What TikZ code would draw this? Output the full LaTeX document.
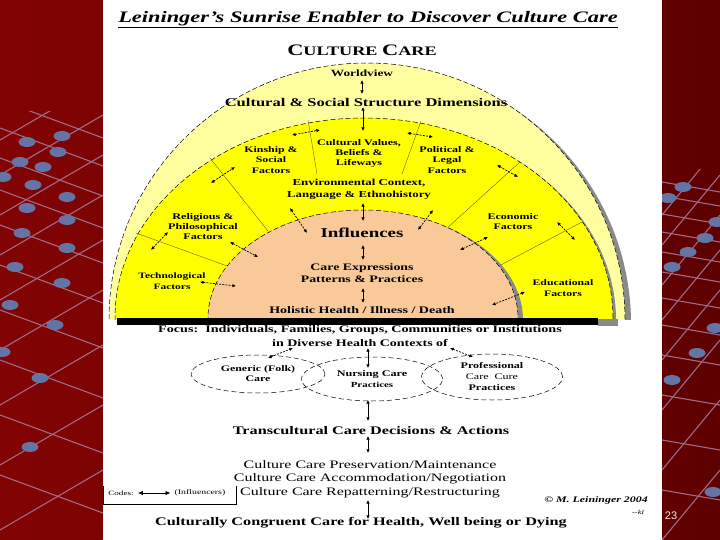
\documentclass[tikz,border=0pt]{standalone}
\usepackage{fontspec}
\setmainfont{Liberation Serif}[FakeStretch=1.4]
\newfontfamily\pgsans{Liberation Sans}
\usetikzlibrary{arrows.meta,shapes.geometric}
\definecolor{bgA}{HTML}{820303}
\definecolor{bgB}{HTML}{5E0000}
\definecolor{pale}{HTML}{FFFFA0}
\definecolor{sun}{HTML}{FFFF00}
\definecolor{peach}{HTML}{F9C99A}
\definecolor{shadowg}{HTML}{8A8A8A}
\definecolor{netpink}{HTML}{A06A88}
\definecolor{netblue}{HTML}{6474A4}
\newcommand\fsz[2]{\fontsize{#1}{#2}\selectfont}
\begin{document}
\begin{tikzpicture}[x=1pt,y=-1pt,
  t/.style={inner sep=0pt, align=center},
  arr/.style={{Latex[length=3.6pt,width=3.4pt]}-{Latex[length=3.6pt,width=3.4pt]}, line width=0.7pt},
  darr/.style={arr, dash pattern=on 2pt off 1.2pt},
  bound/.style={draw=black, line width=0.5pt, dash pattern=on 5pt off 2.5pt},
  divider/.style={draw=black!75, line width=0.3pt},
  ell/.style={ellipse, draw, line width=0.5pt, dash pattern=on 5pt off 3pt, inner sep=0pt, align=center},
  netline/.style={draw=netpink, line width=1.1pt},
  netdot/.style={fill=netblue}]
\useasboundingbox (0,0) rectangle (720,540);
% background
\shade[left color=bgA, right color=bgB] (0,0) rectangle (720,540);
% left network
\begin{scope}
\clip (0,112) rectangle (103,540);
\foreach \c in {140,175,215,255,300,350,405,465,530,600} \draw[netline] (0,\c) -- (103,\c-60);
\foreach \c in {100,128,158,190,225,265,310,360,415,475} \draw[netline] (0,\c) -- (103,\c+38);
\foreach \x/\y in {62/136,27/142,58/152,20/162,43/167,3/177,33/185,67/197,27/208,67/220,22/233,67/248,15/267,62/283,10/305,55/325,2/352,40/378,30/447}
  \fill[netdot] (\x,\y) ellipse [x radius=8.5, y radius=5];
\end{scope}
% right network
\begin{scope}
\clip (662,170) rectangle (720,540);
\foreach \c in {182,196,214,232,252,272,298,325,355,395,440,490} \draw[netline] (662,\c) -- (720,\c+10);
\foreach \c in {215,245,285,320,360,410,470,540} \draw[netline] (662,\c) -- (720,\c-70);
\foreach \x/\y in {683/187,668/198,717/222,705/238,688/252,672/267,715/328,697/353,672/380,713/492}
  \fill[netdot] (\x,\y) ellipse [x radius=8.5, y radius=5];
\end{scope}
% white panel
\fill[white] (103,0) rectangle (662,540);
% sunrise
\begin{scope}
\clip (0,0) rectangle (720,319);
\fill[shadowg] (373,324) ellipse [x radius=258, y radius=257];
\fill[pale] (367,320) ellipse [x radius=258, y radius=257];
\path[bound] (367,320) ellipse [x radius=258, y radius=257];
\fill[shadowg] (367,320) ellipse [x radius=249, y radius=200];
\fill[sun] (364,318) ellipse [x radius=249, y radius=200];
\path[bound] (364,318) ellipse [x radius=249, y radius=200];
\draw[divider] (308,120) -- (317,174);
\draw[divider] (421,121) -- (402,174);
\draw[divider] (210,158) -- (268,231);
\draw[divider] (136,233) -- (230,267);
\draw[divider] (520,162) -- (446,229);
\draw[divider] (582,222) -- (497,267);
\fill[shadowg] (368,320) ellipse [x radius=155, y radius=108];
\fill[peach] (363,318) ellipse [x radius=155, y radius=108];
\path[bound] (363,318) ellipse [x radius=155, y radius=108];
\end{scope}
\fill[shadowg] (598,319) rectangle (618,326);
\fill[black] (117,318) rectangle (598,325);
% texts
\node[t, font=\fsz{16}{18}\bfseries\itshape] (title) at (368,20) {\underline{Leininger’s Sunrise Enabler to Discover Culture Care}};
\node[t, font=\bfseries] (cc) at (362,50) {\fsz{16}{18}C\fsz{13}{14}ULTURE \fsz{16}{18}C\fsz{13}{14}ARE};
\node[t,font=\fsz{9.5}{11}\bfseries] (wv) at (362,73) {Worldview};
\node[t,font=\fsz{11.8}{13}\bfseries] (cssd) at (366,102) {Cultural \& Social Structure Dimensions};
\node[t,font=\fsz{8.5}{10.5}\bfseries] (kin) at (271,160) {Kinship \&\\Social\\Factors};
\node[t,font=\fsz{8.6}{10}\bfseries] (cv) at (359,153) {Cultural Values,\\Beliefs \&\\Lifeways};
\node[t,font=\fsz{8.6}{10.5}\bfseries] (pol) at (447,160) {Political \&\\Legal\\Factors};
\node[t,font=\fsz{9.2}{12}\bfseries] (env) at (359,189) {Environmental Context,\\Language \& Ethnohistory};
\node[t,font=\fsz{8.7}{10}\bfseries] (rel) at (203,227) {Religious \&\\Philosophical\\Factors};
\node[t,font=\fsz{8.6}{10}\bfseries] (eco) at (513,222) {Economic\\Factors};
\node[t,font=\fsz{13.5}{15}\bfseries] (infl) at (362,233) {Influences};
\node[t,font=\fsz{8.2}{11}\bfseries] (tech) at (172,281) {Technological\\Factors};
\node[t,font=\fsz{9.9}{12}\bfseries] (care) at (362,273) {Care Expressions\\Patterns \& Practices};
\node[t,font=\fsz{8.4}{10.5}\bfseries] (edu) at (563,288) {Educational\\Factors};
\node[t,font=\fsz{10}{12}\bfseries] (hol) at (362,310) {Holistic Health / Illness / Death};
\node[t,font=\fsz{10.1}{12}\bfseries] (focus) at (360,330) {Focus:\ \ Individuals, Families, Groups, Communities or Institutions};
\node[t,font=\fsz{10}{12}\bfseries] (diverse) at (360,343) {in Diverse Health Contexts of};
\node[ell, minimum width=134pt, minimum height=38pt, font=\fsz{8.5}{10}\bfseries] (gen) at (258,374) {Generic (Folk)\\Care};
\node[ell, minimum width=141pt, minimum height=44pt, font=\fsz{8.7}{11}\bfseries] (nurs) at (372,379) {Nursing Care\\{\fsz{7.8}{11}Practices}};
\node[ell, minimum width=141pt, minimum height=46pt, font=\fsz{8.6}{11}\bfseries] (prof) at (492,377) {Professional\\{\mdseries Care\ \ Cure}\\Practices};
\node[t,font=\fsz{11.6}{13}\bfseries] (trans) at (371,431) {Transcultural Care Decisions \& Actions};
\node[t,font=\fsz{11.4}{13.5}] (ccp) at (370,479) {Culture Care Preservation/Maintenance\\Culture Care Accommodation/Negotiation\\Culture Care Repatterning/Restructuring};
\node[t,font=\fsz{11.6}{13}\bfseries] (cong) at (361,523) {Culturally Congruent Care for Health, Well being or Dying};
\node[t,font=\fsz{8.5}{10}\bfseries\itshape] (copy) at (596,500) {© M. Leininger 2004};
\node[t,font=\fsz{6}{7}\itshape] (kl) at (638,512) {{-}{-}kl};
\node[t,font=\fsz{6.5}{8}] (codes) at (121,493) {Codes:};
\node[t,font=\fsz{7}{8}] (infl2) at (200,493) {(Influencers)};
\node[t,font=\pgsans\fsz{11}{12}, text=white!85!gray] (pg) at (671,516) {23};
% codes box and arrow
\coordinate (bx1) at (103,486); \coordinate (bx2) at (103,504);
\coordinate (bx3) at (236,504); \coordinate (bx4) at (236,486);
\draw[line width=0.5pt] (bx1) -- (bx2) -- (bx3) -- (bx4);
\draw[line width=0.8pt, {Latex[length=5pt,width=4.5pt]}-{Latex[length=5pt,width=4.5pt]}] ([xshift=4pt]codes.east) -- ([xshift=-4pt]infl2.west);
% arrow end points
\coordinate (w1) at (362,80); \coordinate (w2) at (362,94);
\coordinate (c1) at (363,107); \coordinate (c2) at (363,131);
\coordinate (k1) at (292,135); \coordinate (k2) at (320,130);
\coordinate (v1) at (407,133); \coordinate (v2) at (433,137);
\coordinate (p1) at (497,165); \coordinate (p2) at (518,177);
\coordinate (e1) at (557,222); \coordinate (e2) at (575,240);
\coordinate (r1) at (211,183); \coordinate (r2) at (235,167);
\coordinate (t1) at (151,250); \coordinate (t2) at (168,232);
\coordinate (tp1) at (200,282); \coordinate (tp2) at (236,286);
\coordinate (rp1) at (230,242); \coordinate (rp2) at (258,257);
\coordinate (el1) at (290,208); \coordinate (el2) at (307,233);
\coordinate (ei1) at (363,203); \coordinate (ei2) at (363,221);
\coordinate (er1) at (433,210); \coordinate (er2) at (418,230);
\coordinate (ep1) at (488,237); \coordinate (ep2) at (460,250);
\coordinate (dp1) at (525,292); \coordinate (dp2) at (492,305);
\coordinate (ic1) at (363,245); \coordinate (ic2) at (363,260);
\coordinate (ch1) at (363,288); \coordinate (ch2) at (363,303);
\coordinate (g1) at (268,358); \coordinate (g2) at (293,348);
\coordinate (m1) at (368,348); \coordinate (m2) at (368,368);
\coordinate (q1) at (450,348); \coordinate (q2) at (473,357);
\coordinate (n1) at (368,400); \coordinate (n2) at (368,421);
\coordinate (x1) at (368,436); \coordinate (x2) at (368,453);
\coordinate (y1) at (368,500); \coordinate (y2) at (368,519);
\foreach \a in {w,c,ei,ic,ch,m,n,x,y} \draw[arr] (\a1) -- (\a2);
\foreach \a in {k,v,p,e,r,t,tp,rp,el,er,ep,dp,g,q} \draw[darr] (\a1) -- (\a2);
\end{tikzpicture}
\end{document}
